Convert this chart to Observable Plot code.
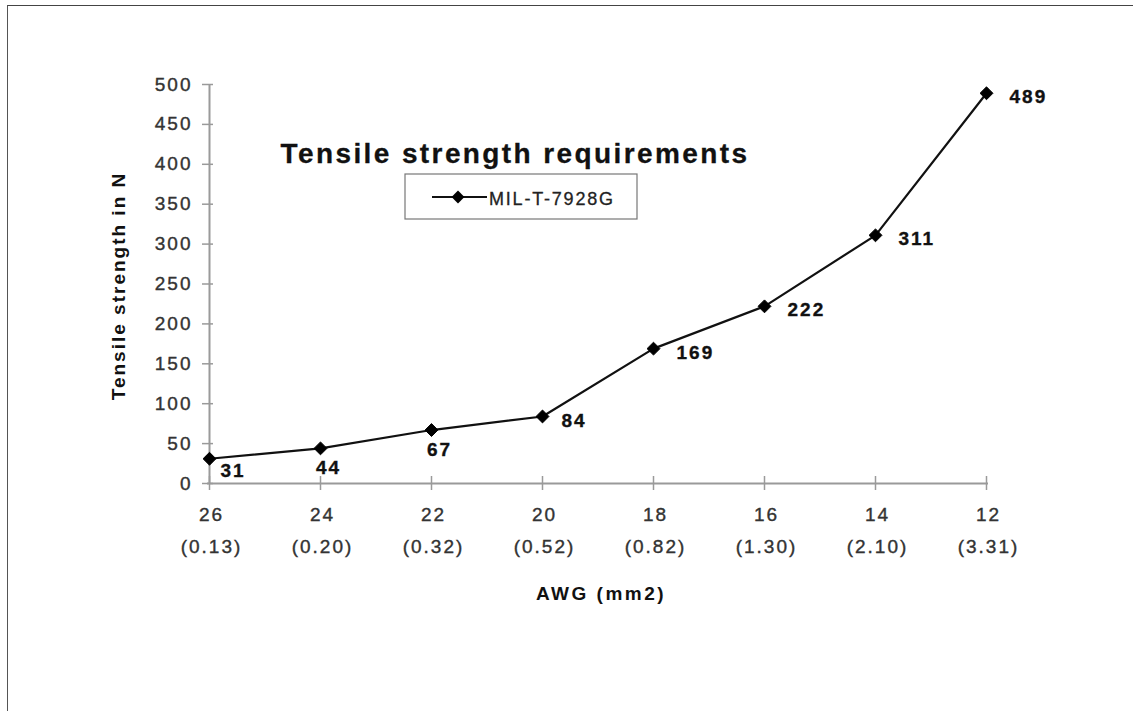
<!DOCTYPE html>
<html>
<head>
<meta charset="utf-8">
<script src="https://cdn.jsdelivr.net/npm/d3@7"></script>
<script src="https://cdn.jsdelivr.net/npm/@observablehq/plot@0.6"></script>
<style>
  body { margin: 0; background: #fff; }
  #wrap { position: relative; width: 1133px; height: 711px; overflow: hidden; background: #fff; }
  #border { position: absolute; left: 7px; top: 5px; width: 1200px; height: 800px;
            border-top: 1.5px solid #444; border-left: 1.5px solid #555; pointer-events: none; }
  #wrap svg text { font-family: "Liberation Sans", Arial, sans-serif; }
</style>
</head>
<body>
<div id="wrap"><div id="border"></div></div>
<script>
// ---- data ----
const awg = ["26", "24", "22", "20", "18", "16", "14", "12"];
const mm2 = ["0.13", "0.20", "0.32", "0.52", "0.82", "1.30", "2.10", "3.31"];
const strength = [31, 44, 67, 84, 169, 222, 311, 489];
const yTicks = [0, 50, 100, 150, 200, 250, 300, 350, 400, 450, 500];
const seriesName = "MIL-T-7928G";
const titleText = "Tensile strength requirements";
const yLabelText = "Tensile strength in N";
const xLabelText = "AWG (mm2)";

const data = awg.map((a, i) => ({awg: a, mm2: mm2[i], value: strength[i], i}));

const axisGray = "#9a9a9a";
const chart = Plot.plot({
  width: 1133,
  height: 711,
  marginLeft: 207,
  marginRight: 145,
  marginTop: 84,
  marginBottom: 228,
  style: {fontFamily: "Liberation Sans, Arial, sans-serif", fontSize: "19px", color: "#222", background: "transparent", overflow: "visible"},
  x: {type: "point", domain: awg, padding: 0, label: null},
  y: {domain: [0, 500], label: null},
  marks: [
    // axis lines
    Plot.ruleY([0], {stroke: axisGray, strokeWidth: 2}),
    Plot.ruleX([awg[0]], {y1: 0, y2: 500, stroke: axisGray, strokeWidth: 2}),
    // y ticks crossing the axis
    Plot.axisY(yTicks, {anchor: "left", tickSize: 11, dx: 6, fill: "none", stroke: axisGray, strokeWidth: 1.5, label: null}),
    // y tick labels
    Plot.axisY(yTicks, {anchor: "left", tickSize: 0, tickPadding: 15, fontSize: 19, fill: "#333", label: null}),
    // x ticks crossing the axis
    Plot.axisX(awg, {anchor: "bottom", tickSize: 14, dy: -7, fill: "none", stroke: axisGray, strokeWidth: 1.5, label: null}),
    // x labels: AWG and cross-section rows
    Plot.text(awg, {x: d => d, frameAnchor: "bottom", dx: 2, dy: 37, text: d => d, fontSize: 19, fill: "#333", ariaLabel: "awg"}),
    Plot.text(data, {x: "awg", frameAnchor: "bottom", dx: 2, dy: 69, text: d => `(${d.mm2})`, fontSize: 19, fill: "#333", ariaLabel: "mm2"}),
    // series
    Plot.line(data, {x: "awg", y: "value", stroke: "#111", strokeWidth: 2.2}),
    Plot.dot(data, {x: "awg", y: "value", symbol: "diamond2", r: 5.8, fill: "#000", stroke: "#000", strokeWidth: 1}),
    // value labels
    Plot.text(data.filter(d => d.i === 0), {x: "awg", y: "value", text: "value", textAnchor: "start", dx: 11, dy: 12, fontSize: 19, fontWeight: "bold", fill: "#111", ariaLabel: "value"}),
    Plot.text(data.filter(d => d.i === 1 || d.i === 2), {x: "awg", y: "value", text: "value", textAnchor: "middle", dx: 8, dy: 20, fontSize: 19, fontWeight: "bold", fill: "#111", ariaLabel: "value"}),
    Plot.text(data.filter(d => d.i === 3), {x: "awg", y: "value", text: "value", textAnchor: "start", dx: 19, dy: 4, fontSize: 19, fontWeight: "bold", fill: "#111", ariaLabel: "value"}),
    Plot.text(data.filter(d => d.i >= 4), {x: "awg", y: "value", text: "value", textAnchor: "start", dx: 23, dy: 4, fontSize: 19, fontWeight: "bold", fill: "#111", ariaLabel: "value"})
  ]
});

document.getElementById("wrap").insertBefore(chart, document.getElementById("border"));
chart.style.position = "absolute";
chart.style.left = "0px";
chart.style.top = "0px";

const svg = d3.select(chart);
// scan-like letter spacing and slight weight for chart texts
svg.selectAll("text")
  .style("letter-spacing", "2px")
  .style("paint-order", "stroke")
  .style("stroke", "currentColor")
  .style("stroke-width", "0.35px");

// title
svg.append("text")
  .attr("x", 515).attr("y", 163)
  .attr("text-anchor", "middle")
  .style("font-size", "28px").style("font-weight", "bold")
  .style("letter-spacing", "2.4px").attr("fill", "#111")
  .style("stroke", "#111").style("stroke-width", "0.3px")
  .text(titleText);
// legend
const lg = svg.append("g").attr("aria-label", "legend");
lg.append("rect").attr("x", 405).attr("y", 174).attr("width", 232).attr("height", 45)
  .attr("fill", "#fff").attr("stroke", "#777").attr("stroke-width", 1.2);
lg.append("line").attr("x1", 432).attr("x2", 487).attr("y1", 197).attr("y2", 197)
  .attr("stroke", "#111").attr("stroke-width", 2);
lg.append("path").attr("transform", "translate(458,197)")
  .attr("d", d3.symbol(d3.symbolDiamond2, Math.PI * 5.8 * 5.8)()).attr("fill", "#000");
lg.append("text").attr("x", 489).attr("y", 205)
  .attr("text-anchor", "start")
  .style("font-size", "18px").style("letter-spacing", "1.8px").attr("fill", "#222")
  .style("stroke", "#222").style("stroke-width", "0.3px")
  .text(seriesName);
// axis titles
svg.append("text")
  .attr("transform", "translate(125,286) rotate(-90)")
  .attr("text-anchor", "middle")
  .style("font-size", "19px").style("font-weight", "bold").style("letter-spacing", "2px")
  .attr("fill", "#111").text(yLabelText);
svg.append("text")
  .attr("x", 601).attr("y", 600)
  .attr("text-anchor", "middle")
  .style("font-size", "19px").style("font-weight", "bold").style("letter-spacing", "2.5px")
  .attr("fill", "#111").text(xLabelText);
</script>
</body>
</html>
